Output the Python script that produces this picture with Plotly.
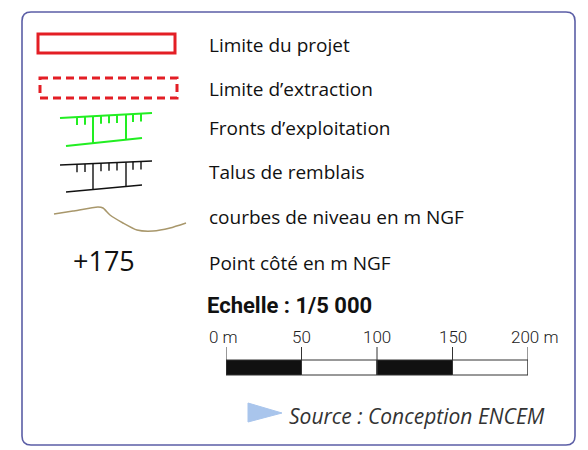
import plotly.graph_objects as go

# ---- data ----
legend_labels = ["Limite du projet", "Limite d\u2019extraction", "Fronts d\u2019exploitation",
                 "Talus de remblais", "courbes de niveau en m NGF", "Point c\u00f4t\u00e9 en m NGF"]
spot_height = "+175"
scale_title = "Echelle : 1/5 000"
scale_values = [0, 50, 100, 150, 200]
scale_labels = ["0 m", "50", "100", "150", "200 m"]
source_text = "Source : Conception ENCEM"
contour_x = [54, 73, 98, 103, 110, 123, 137, 153, 170, 186]
contour_y = [214, 211, 207, 208, 215, 223, 230, 231, 228, 223]
short_ticks_x = [77, 85, 101, 109, 117, 133, 141]
long_ticks_x = [93, 126]

# ---- layout positions ----
label_x = 207
label_y = [45, 89, 128, 172, 217, 263]
W, H = 588, 450
FONT = "Open Sans"

fig = go.Figure()
shapes = []
annotations = []

# frame
r = 9
x0, y0, x1, y1 = 22, 12, 575, 445
frame = (f"M {x0+r},{y0} L {x1-r},{y0} Q {x1},{y0} {x1},{y0+r} L {x1},{y1-r} Q {x1},{y1} {x1-r},{y1} "
         f"L {x0+r},{y1} Q {x0},{y1} {x0},{y1-r} L {x0},{y0+r} Q {x0},{y0} {x0+r},{y0} Z")
shapes.append(dict(type="path", path=frame, xref="x", yref="y", line=dict(color="#5b5ea6", width=1.6)))

# red solid rectangle
shapes.append(dict(type="rect", x0=38, y0=34, x1=175, y1=53, xref="x", yref="y",
                   line=dict(color="#e31e25", width=3)))
# red dashed rectangle
shapes.append(dict(type="rect", x0=40, y0=78, x1=177, y1=98, xref="x", yref="y",
                   line=dict(color="#e31e25", width=3, dash="8px,5px")))


def ticked(top, bottom, color, width):
    (tx0, ty0), (tx1, ty1) = top
    (bx0, by0), (bx1, by1) = bottom

    def ty(x):
        return ty0 + (ty1 - ty0) * (x - tx0) / (tx1 - tx0)

    def by(x):
        return by0 + (by1 - by0) * (x - bx0) / (bx1 - bx0)
    xs, ys = [tx0, tx1, None, bx0, bx1, None], [ty0, ty1, None, by0, by1, None]
    for x in short_ticks_x:
        xs += [x, x, None]
        ys += [ty(x), ty(x) + 8, None]
    for x in long_ticks_x:
        xs += [x, x, None]
        ys += [ty(x), by(x), None]
    fig.add_trace(go.Scatter(x=xs, y=ys, mode="lines", line=dict(color=color, width=width),
                             hoverinfo="skip", showlegend=False))


ticked(((60, 118), (152, 113)), ((66, 146), (142, 138)), "#22ee22", 2)
ticked(((60, 165), (152, 161)), ((66, 192), (142, 185)), "#111111", 1.4)

# contour line
fig.add_trace(go.Scatter(x=contour_x, y=contour_y, mode="lines",
                         line=dict(color="#a8976b", width=1.5, shape="spline", smoothing=0.6),
                         hoverinfo="skip", showlegend=False))

# spot height
annotations.append(dict(x=104, y=260, xref="x", yref="y", text=spot_height, showarrow=False,
                        font=dict(family=FONT, size=27, color="#111")))

# labels
for t, yy in zip(legend_labels, label_y):
    annotations.append(dict(x=label_x, y=yy, xref="x", yref="y", text=t, showarrow=False,
                            xanchor="left", yanchor="middle",
                            font=dict(family=FONT, size=19, color="#111")))

annotations.append(dict(x=label_x - 2, y=305, xref="x", yref="y", text=scale_title, showarrow=False,
                        xanchor="left", yanchor="middle",
                        font=dict(family="Roboto", size=22, color="#111", weight="bold")))

# scale bar (own axis x2 in metres)
for i in range(len(scale_values) - 1):
    a, b = scale_values[i], scale_values[i + 1]
    shapes.append(dict(type="rect", x0=a, x1=b, y0=360, y1=375, xref="x2", yref="y",
                       fillcolor="#111111" if i % 2 == 0 else "white",
                       line=dict(color="#333", width=1)))
for v in scale_values:
    shapes.append(dict(type="line", x0=v, x1=v, y0=347, y1=375, xref="x2", yref="y",
                       line=dict(color="#333", width=1)))
label_shift = [-3, 0, 0, 0, 7]
for v, t, s in zip(scale_values, scale_labels, label_shift):
    annotations.append(dict(x=v, y=337, xref="x2", yref="y", text=t, showarrow=False, xshift=s,
                            yanchor="middle",
                            font=dict(family="Roboto", size=17, color="#222", weight=300)))

# source
fig.add_trace(go.Scatter(x=[248, 282, 248, 248], y=[403, 413, 422, 403], mode="lines", fill="toself",
                         fillcolor="#a9c5ec", line=dict(color="#a9c5ec", width=1),
                         hoverinfo="skip", showlegend=False))
annotations.append(dict(x=287, y=416, xref="x", yref="y", text=f"<i>{source_text}</i>", showarrow=False,
                        xanchor="left", yanchor="middle",
                        font=dict(family=FONT, size=21, color="#333")))

fig.update_layout(
    width=W, height=H, margin=dict(l=0, r=0, t=0, b=0),
    paper_bgcolor="white", plot_bgcolor="rgba(0,0,0,0)",
    xaxis=dict(range=[0, W], visible=False, domain=[0, 1]),
    yaxis=dict(range=[H, 0], visible=False, domain=[0, 1]),
    xaxis2=dict(range=[0, 200], visible=False, domain=[226 / W, 528 / W], anchor="y"),
    shapes=shapes, annotations=annotations, showlegend=False,
)
fig.write_html("out.html", post_script="document.body.style.margin='0';",
               config={"displayModeBar": False})
